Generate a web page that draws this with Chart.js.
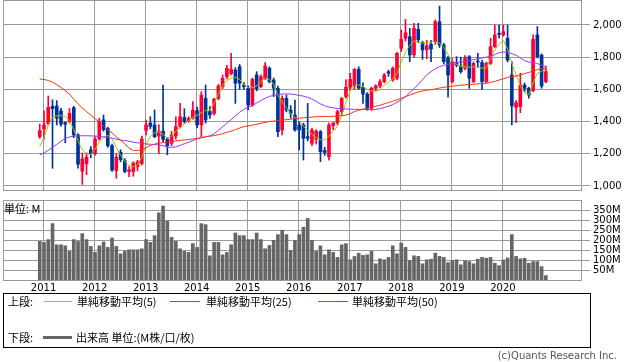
<!DOCTYPE html>
<html>
<head>
<meta charset="utf-8">
<script src="https://cdn.jsdelivr.net/npm/chart.js@4.4.1/dist/chart.umd.min.js"></script>
<style>
  body { margin: 0; background: #fff; }
  #wrap { position: relative; width: 638px; height: 362px; overflow: hidden; font-family: "DejaVu Sans", sans-serif; }
  canvas { position: absolute; left: 0; }
  .jp { position: absolute; font-family: "Noto Sans CJK JP", sans-serif; font-size: 11px; line-height: 13px; white-space: nowrap; color: #000; }
  .swatch { position: absolute; height: 1px; }
</style>
</head>
<body>
<div id="wrap">
  <canvas id="priceChart" width="638" height="192" style="top:0"></canvas>
  <canvas id="volumeChart" width="638" height="100" style="top:195px"></canvas>
  <div class="jp" style="left:4px;top:202px">単位: M</div>

  <div style="position:absolute;left:3px;top:293px;width:586px;height:53px;border:1px solid #000"></div>
  <div class="jp" style="left:8px;top:295px">上段:</div>
  <div class="swatch" style="left:44px;top:301px;width:28px;background:#99cc00"></div>
  <div class="jp" style="left:77px;top:295px">単純移動平均(5)</div>
  <div class="swatch" style="left:170px;top:301px;width:30px;background:#9933ff"></div>
  <div class="jp" style="left:206px;top:295px">単純移動平均(25)</div>
  <div class="swatch" style="left:318px;top:301px;width:30px;background:#ff3300"></div>
  <div class="jp" style="left:352px;top:295px">単純移動平均(50)</div>
  <div class="jp" style="left:8px;top:331px">下段:</div>
  <div class="swatch" style="left:43px;top:336px;width:29px;height:3px;background:#666"></div>
  <div class="jp" style="left:76px;top:331px">出来高 単位:(M株/口/枚)</div>
  <div style="position:absolute;right:21px;top:350px;font-size:10px;color:#555">(c)Quants Research Inc.</div>
</div>

<script>
// monthly bars, Dec 2010 .. Nov 2020
const months = [];
for (let i = 0; i < 120; i++) {
  const m = 11 + i;
  months.push((2010 + Math.floor(m / 12)) + '-' + String(m % 12 + 1).padStart(2, '0'));
}
const yearLabels = ['2011', '2012', '2013', '2014', '2015', '2016', '2017', '2018', '2019', '2020'];
const priceTicks = [1000, 1200, 1400, 1600, 1800, 2000];
const volumeTicks = [50, 100, 150, 200, 250, 300, 350];

const opens = [
  1306, 1354, 1386, 1495, 1497, 1466, 1393, 1400, 1486, 1317,
  1092, 1137, 1225, 1200, 1292, 1410, 1358, 1250, 1095, 1210,
  1158, 1089, 1090, 1120, 1140, 1345, 1390, 1379, 1310, 1340,
  1290, 1265, 1310, 1368, 1425, 1405, 1420, 1468, 1379, 1544,
  1462, 1450, 1544, 1617, 1679, 1696, 1720, 1741, 1627, 1607,
  1503, 1690, 1617, 1669, 1731, 1658, 1607, 1348, 1544, 1472,
  1441, 1379, 1379, 1306, 1265, 1290, 1337, 1220, 1182, 1375,
  1389, 1462, 1555, 1613, 1620, 1724, 1613, 1571, 1482, 1607,
  1621, 1648, 1710, 1658, 1669, 1855, 1917, 1927, 1814, 1973,
  1890, 1845, 1880, 1896, 2020, 1876, 1793, 1648, 1766, 1745,
  1731, 1803, 1648, 1775, 1766, 1648, 1762, 1865, 1948, 1938,
  1917, 1689, 1488, 1493, 1627, 1607, 1592, 1938, 1813, 1648
];
const highs = [
  1385, 1466, 1559, 1535, 1530, 1482, 1400, 1482, 1495, 1325,
  1205, 1205, 1245, 1305, 1420, 1441, 1365, 1260, 1200, 1225,
  1170, 1120, 1150, 1160, 1310, 1410, 1430, 1472, 1380, 1627,
  1300, 1340, 1430, 1513, 1480, 1430, 1524, 1490, 1586, 1627,
  1493, 1545, 1630, 1690, 1750, 1824, 1735, 1755, 1642, 1622,
  1670, 1710, 1690, 1766, 1740, 1670, 1620, 1560, 1565, 1500,
  1534, 1400, 1390, 1513, 1360, 1350, 1345, 1240, 1390, 1395,
  1470, 1550, 1660, 1700, 1730, 1740, 1640, 1580, 1615, 1630,
  1660, 1700, 1720, 1740, 1830, 1969, 2035, 1979, 2010, 2010,
  1900, 1905, 1905, 2031, 2117, 1885, 1805, 1790, 1803, 1800,
  1810, 1810, 1770, 1824, 1780, 1770, 1917, 2000, 2000, 2000,
  2000, 1772, 1530, 1700, 1640, 1612, 1938, 1990, 1820, 1745
];
const lows = [
  1296, 1290, 1380, 1110, 1379, 1372, 1269, 1390, 1300, 1110,
  1010, 1070, 1175, 1190, 1285, 1340, 1240, 1090, 1048, 1150,
  1082, 1058, 1060, 1095, 1130, 1317, 1355, 1300, 1200, 1275,
  1193, 1250, 1290, 1360, 1390, 1395, 1415, 1360, 1306, 1390,
  1420, 1440, 1535, 1605, 1665, 1690, 1513, 1600, 1600, 1472,
  1495, 1590, 1610, 1660, 1640, 1555, 1306, 1317, 1460, 1420,
  1340, 1224, 1161, 1280, 1250, 1260, 1151, 1190, 1160, 1350,
  1380, 1440, 1545, 1600, 1600, 1600, 1513, 1470, 1470, 1590,
  1610, 1640, 1680, 1650, 1660, 1835, 1900, 1772, 1800, 1890,
  1787, 1790, 1772, 1880, 1860, 1760, 1551, 1640, 1740, 1700,
  1720, 1606, 1640, 1741, 1600, 1640, 1755, 1860, 1920, 1930,
  1770, 1379, 1393, 1455, 1586, 1545, 1585, 1795, 1607, 1640
];
const closes = [
  1344, 1379, 1488, 1480, 1420, 1385, 1383, 1451, 1317, 1135,
  1168, 1180, 1200, 1292, 1400, 1350, 1250, 1099, 1178, 1163,
  1090, 1100, 1142, 1150, 1292, 1380, 1370, 1306, 1340, 1290,
  1250, 1317, 1368, 1431, 1400, 1420, 1470, 1379, 1565, 1410,
  1441, 1540, 1621, 1669, 1731, 1724, 1638, 1638, 1617, 1503,
  1662, 1603, 1679, 1745, 1648, 1607, 1337, 1544, 1472, 1450,
  1348, 1348, 1296, 1296, 1348, 1340, 1213, 1208, 1379, 1390,
  1462, 1544, 1613, 1662, 1724, 1607, 1571, 1482, 1607, 1621,
  1648, 1689, 1700, 1731, 1824, 1911, 1952, 1814, 1979, 1907,
  1845, 1870, 1850, 2020, 1876, 1772, 1689, 1772, 1751, 1710,
  1799, 1669, 1762, 1770, 1648, 1762, 1865, 1938, 1942, 1958,
  1782, 1497, 1517, 1627, 1606, 1565, 1911, 1803, 1621, 1710
];
// volume, millions
const volumes = [
  193, 188, 202, 282, 176, 176, 171, 143, 202, 193,
  232, 202, 168, 138, 171, 190, 163, 210, 168, 131,
  143, 151, 151, 151, 156, 202, 188, 222, 336, 370,
  294, 213, 193, 156, 143, 138, 182, 163, 282, 277,
  121, 188, 188, 126, 138, 176, 235, 222, 222, 202,
  202, 235, 202, 156, 173, 198, 227, 249, 227, 148,
  198, 227, 264, 308, 198, 143, 171, 126, 151, 138,
  113, 176, 182, 101, 118, 134, 123, 126, 143, 81,
  106, 101, 113, 171, 131, 185, 163, 97, 121, 118,
  81, 101, 104, 134, 118, 113, 87, 96, 101, 76,
  96, 92, 81, 104, 113, 109, 113, 84, 72, 100,
  110, 227, 118, 106, 109, 84, 92, 92, 67, 22
];
const ma5 = [
  1244, 1300, 1380, 1425, 1435, 1437, 1432, 1405, 1350, 1280,
  1225, 1200, 1195, 1230, 1270, 1300, 1315, 1290, 1240, 1190,
  1155, 1125, 1120, 1130, 1180, 1255, 1310, 1330, 1337, 1320,
  1297, 1310, 1340, 1365, 1385, 1405, 1425, 1440, 1455, 1470,
  1472, 1513, 1570, 1625, 1655, 1670, 1675, 1662, 1630, 1610,
  1612, 1620, 1648, 1668, 1662, 1630, 1565, 1520, 1485, 1450,
  1425, 1405, 1370, 1345, 1320, 1300, 1287, 1287, 1310, 1340,
  1370, 1440, 1520, 1590, 1625, 1628, 1618, 1600, 1588, 1588,
  1600, 1625, 1645, 1665, 1700, 1770, 1830, 1875, 1900, 1895,
  1888, 1890, 1895, 1895, 1888, 1860, 1815, 1775, 1755, 1742,
  1740, 1738, 1740, 1735, 1731, 1733, 1790, 1845, 1880, 1905,
  1850, 1760, 1690, 1620, 1580, 1568, 1640, 1700, 1712, 1731
];
const ma25 = [
  1193, 1205, 1222, 1240, 1258, 1278, 1295, 1305, 1309, 1311,
  1312, 1312, 1311, 1310, 1308, 1305, 1302, 1297, 1290, 1285,
  1282, 1278, 1272, 1268, 1264, 1261, 1259, 1257, 1255, 1250,
  1242, 1240, 1243, 1252, 1262, 1272, 1282, 1292, 1300, 1305,
  1312, 1325, 1345, 1368, 1390, 1412, 1435, 1458, 1475, 1490,
  1500, 1515, 1530, 1545, 1556, 1563, 1568, 1571, 1572, 1571,
  1568, 1562, 1558, 1550, 1540, 1525, 1510, 1498, 1490, 1485,
  1482, 1480, 1478, 1477, 1476, 1476, 1476, 1475, 1473, 1475,
  1480, 1487, 1495, 1505, 1520, 1534, 1555, 1580, 1605, 1630,
  1660, 1690, 1710, 1728, 1741, 1750, 1756, 1762, 1766, 1770,
  1774, 1778, 1785, 1790, 1795, 1800, 1805, 1815, 1828, 1832,
  1830, 1822, 1812, 1795, 1778, 1770, 1766, 1760, 1750, 1741
];
const ma50 = [
  1664, 1662, 1655, 1645, 1630, 1612, 1592, 1570, 1540, 1510,
  1485, 1462, 1440, 1418, 1398, 1370, 1350, 1330, 1305, 1285,
  1262, 1235, 1220, 1220, 1225, 1238, 1252, 1260, 1265, 1269,
  1272, 1276, 1280, 1283, 1286, 1289, 1292, 1296, 1300, 1305,
  1309, 1313, 1318, 1325, 1333, 1340, 1350, 1360, 1368, 1373,
  1378, 1383, 1389, 1395, 1400, 1403, 1406, 1409, 1412, 1414,
  1418, 1421, 1424, 1426, 1428, 1430, 1431, 1431, 1432, 1433,
  1434, 1436, 1440, 1450, 1462, 1470, 1476, 1484, 1490, 1495,
  1502, 1510, 1518, 1526, 1535, 1544, 1555, 1565, 1575, 1583,
  1590, 1595, 1598, 1603, 1608, 1613, 1617, 1620, 1623, 1626,
  1628, 1630, 1632, 1634, 1636, 1638, 1643, 1650, 1658, 1666,
  1674, 1679, 1683, 1690, 1698, 1705, 1715, 1722, 1728, 1731
];

const UP = '#ff0033';
const DOWN = '#003399';
const GRID = '#9a9a9a';
const candleColors = closes.map((c, i) => (c >= opens[i] ? UP : DOWN));

// x is the month index; the year lines sit on each January bar
const X_MIN = -8.64;
const X_MAX = 127.5;
const yearTicks = yearLabels.map(y => ({ value: months.indexOf(y + '-01') - 0.1 }));

const frame = {
  id: 'frame',
  beforeDatasetsDraw(chart) {
    const a = chart.chartArea;
    const ctx = chart.ctx;
    const l = Math.round(a.left), t = Math.round(a.top);
    const r = Math.round(a.right), b = Math.round(a.bottom);
    ctx.save();
    ctx.strokeStyle = GRID;
    ctx.lineWidth = 1;
    ctx.strokeRect(l + 0.5, t + 0.5, r - l - 1, b - t);
    ctx.restore();
  }
};

const xScale = (showLabels) => ({
  type: 'linear',
  min: X_MIN,
  max: X_MAX,
  offset: false,
  afterBuildTicks: s => { s.ticks = yearTicks.map(t => ({ value: t.value })); },
  afterFit: s => {
    s.height = showLabels ? 15 : 0;
    s.paddingLeft = 0;
    s.paddingRight = 0;
  },
  grid: { color: GRID, drawTicks: false, offset: false },
  border: { display: false },
  ticks: {
    display: showLabels,
    autoSkip: false,
    maxRotation: 0,
    padding: 2,
    color: '#000',
    font: { family: 'DejaVu Sans', size: 10 },
    callback: (v, i) => yearLabels[i]
  }
});

const yScale = (min, max, ticks, fmt) => ({
  position: 'right',
  min: min,
  max: max,
  afterBuildTicks: s => { s.ticks = ticks.map(v => ({ value: v })); },
  afterFit: s => {
    s.width = 56;
    s.paddingTop = 0;
    s.paddingBottom = 0;
  },
  grid: { color: GRID, tickLength: 8 },
  border: { display: false },
  ticks: {
    autoSkip: false,
    padding: 3,
    color: '#000',
    font: { family: 'DejaVu Sans', size: 10 },
    callback: fmt
  }
});

const line = (data, color) => ({
  type: 'line',
  data: data.map((v, i) => ({ x: i, y: v })),
  borderColor: color,
  borderWidth: 1,
  pointRadius: 0,
  tension: 0,
  order: 0
});

new Chart(document.getElementById('priceChart'), {
  type: 'bar',
  data: {
    datasets: [
      {
        data: lows.map((l, i) => ({ x: i, y: [l, highs[i]] })),
        backgroundColor: candleColors,
        barThickness: 1,
        grouped: false,
        order: 2
      },
      {
        data: opens.map((o, i) => ({ x: i, y: [o, closes[i]] })),
        backgroundColor: candleColors,
        barThickness: 3,
        minBarLength: 1,
        grouped: false,
        order: 1
      },
      line(ma50, '#ff3300'),
      line(ma25, '#9933ff'),
      line(ma5, '#99cc00')
    ]
  },
  options: {
    responsive: false,
    animation: false,
    events: [],
    layout: { padding: { left: 3, top: 0, right: 0, bottom: 2 } },
    plugins: { legend: { display: false }, tooltip: { enabled: false } },
    scales: {
      x: xScale(false),
      y: yScale(975, 2155, priceTicks, v => v.toLocaleString('en-US'))
    }
  },
  plugins: [frame]
});

new Chart(document.getElementById('volumeChart'), {
  type: 'bar',
  data: {
    datasets: [{
      data: volumes.map((v, i) => ({ x: i, y: v })),
      backgroundColor: '#666666',
      barThickness: 3
    }]
  },
  options: {
    responsive: false,
    animation: false,
    events: [],
    layout: { padding: { left: 3, top: 5, right: 0, bottom: 0 } },
    plugins: { legend: { display: false }, tooltip: { enabled: false } },
    scales: {
      x: xScale(true),
      y: yScale(0, 400, volumeTicks, v => v + 'M')
    }
  },
  plugins: [frame]
});
</script>
</body>
</html>
